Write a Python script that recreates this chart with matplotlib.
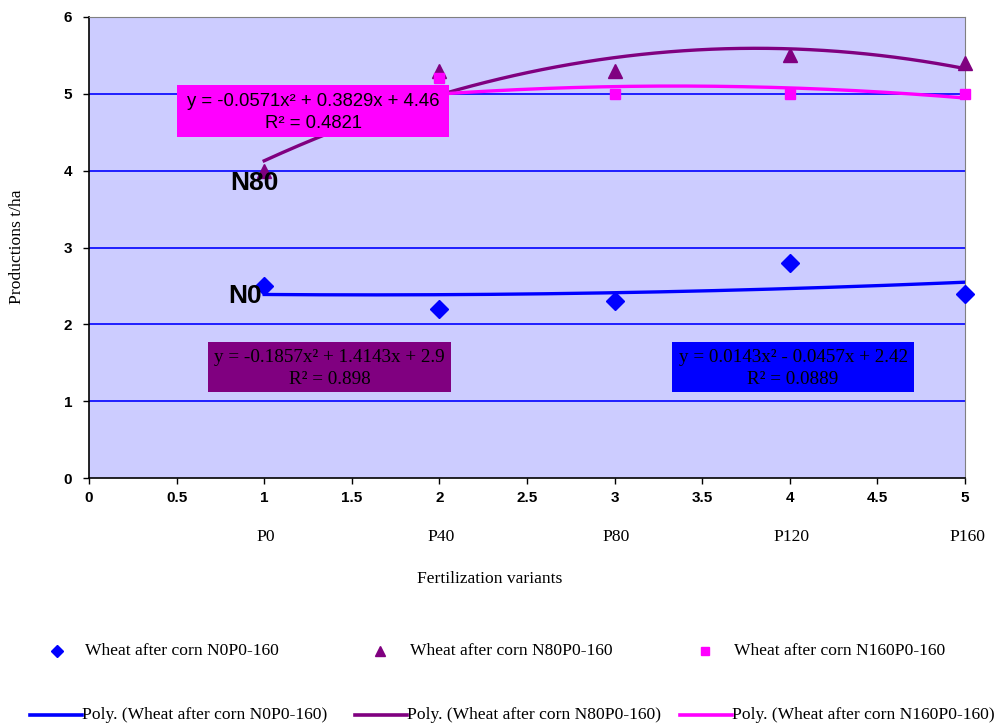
import numpy as np
import matplotlib
matplotlib.use("Agg")
import matplotlib.pyplot as plt
from matplotlib.lines import Line2D

# ---- data ----
variants = ["P0", "P40", "P80", "P120", "P160"]
x_pos = [1, 2, 3, 4, 5]
n0 = [2.5, 2.2, 2.3, 2.8, 2.4]
n80 = [4.0, 5.3, 5.3, 5.5, 5.4]
n160 = [4.7, 5.2, 5.0, 5.0, 5.0]
series_names = ["Wheat after corn N0P0-160", "Wheat after corn N80P0-160",
                "Wheat after corn N160P0-160"]
colors = ["#0000FF", "#800080", "#FF00FF"]
markers = ["D", "^", "s"]
msizes = [9, 10, 7]

W, H = 997, 726
fig = plt.figure(figsize=(W / 100, H / 100), dpi=100)
fig.patch.set_facecolor("white")

def fx(px):
    return px / W

def fy(py):
    return 1 - py / H

ax = fig.add_axes([fx(89), fy(478), fx(965) - fx(89), fy(17) - fy(478)])
ax.set_facecolor("#CCCCFF")
ax.set_xlim(0, 5)
ax.set_ylim(0, 6)
ax.set_yticks(range(0, 7))
ax.set_xticks(np.arange(0, 5.01, 0.5))
ax.set_xticklabels(["0", "0.5", "1", "1.5", "2", "2.5", "3", "3.5", "4", "4.5", "5"])
for lab in ax.get_xticklabels() + ax.get_yticklabels():
    lab.set_fontfamily("Liberation Sans")
    lab.set_fontweight("bold")
    lab.set_fontsize(11)
ax.tick_params(axis="both", direction="out", length=4, width=1, color="black")
ax.tick_params(axis="x", pad=5)
ax.tick_params(axis="y", pad=8)
for y in range(1, 6):
    ax.axhline(y, color="#0000FF", lw=1.2, zorder=1)
ax.spines["left"].set_color("black")
ax.spines["bottom"].set_color("black")
ax.spines["left"].set_linewidth(1.2)
ax.spines["bottom"].set_linewidth(1.2)
ax.spines["top"].set_color("#808080")
ax.spines["right"].set_color("#808080")

# trendlines
xs = np.linspace(1, 5, 200)
data = [n0, n80, n160]
for ys, c in zip(data, colors):
    coef = np.polyfit(x_pos, ys, 2)
    ax.plot(xs, np.polyval(coef, xs), color=c, lw=2.4, zorder=3)
for ys, c, m, s in zip(data, colors, markers, msizes):
    ax.plot(x_pos, ys, linestyle="none", marker=m, color=c, markersize=s, zorder=4,
            clip_on=False)

# equation boxes (text on colored boxes)
def box(x0, y0, x1, y1, color, lines, line_y, family, size):
    r = plt.Rectangle((fx(x0), fy(y1)), fx(x1) - fx(x0), fy(y0) - fy(y1),
                      transform=fig.transFigure, facecolor=color, edgecolor="none",
                      zorder=5)
    fig.add_artist(r)
    cx = (x0 + x1) / 2
    for t, cy in zip(lines, line_y):
        fig.text(fx(cx), fy(cy), t, ha="center", va="center", fontsize=size,
                 family=family, color="black", zorder=6)

box(177, 85, 449, 137, "#FF00FF",
    ["y = -0.0571x² + 0.3829x + 4.46", "R² = 0.4821"], [102, 123],
    "Liberation Sans", 13.3)
box(208, 342, 451, 392, "#800080",
    ["y = -0.1857x² + 1.4143x + 2.9", "R² = 0.898"], [358, 379],
    "Liberation Serif", 13.8)
box(672, 342, 914, 392, "#0000FF",
    ["y = 0.0143x² - 0.0457x + 2.42", "R² = 0.0889"], [358, 379],
    "Liberation Serif", 13.8)

# series labels
fig.text(fx(254), fy(183), "N80", ha="center", va="center", fontsize=19,
         fontweight="bold", family="Liberation Sans", zorder=7)
fig.text(fx(245), fy(296), "N0", ha="center", va="center", fontsize=19,
         fontweight="bold", family="Liberation Sans", zorder=7)

# category labels
for xp, lab in zip(x_pos, variants):
    xd = ax.transData.transform((xp, 0))[0]
    fig.text(xd / W + 0.002, fy(537), lab, ha="center", va="center", fontsize=12.6,
             family="Liberation Serif")
fig.text(fx(490), fy(579), "Fertilization variants", ha="center", va="center",
         fontsize=12.6, family="Liberation Serif")
fig.text(fx(17), fy(247), "Productions t/ha", ha="center", va="center",
         fontsize=12.6, family="Liberation Serif", rotation=90)

# legend
row1_y = fy(651)
for mx, tx, c, m, s, name in zip([57, 380, 705], [85, 410, 734], colors, markers,
                                  [6, 7, 6], series_names):
    fig.add_artist(Line2D([fx(mx)], [row1_y], marker=m, color=c, markersize=s,
                          linestyle="none", transform=fig.transFigure))
    fig.text(fx(tx), row1_y, name, ha="left", va="center", fontsize=12.6,
             family="Liberation Serif")
row2_y = fy(715)
for lx, c, name in zip([30, 355, 680], colors, series_names):
    fig.add_artist(Line2D([fx(lx), fx(lx + 52)], [row2_y, row2_y], color=c, lw=2.6,
                          transform=fig.transFigure))
    fig.text(fx(lx + 52), row2_y, "Poly. (" + name + ")", ha="left", va="center",
             fontsize=12.6, family="Liberation Serif")

fig.savefig("out.png", dpi=100)
